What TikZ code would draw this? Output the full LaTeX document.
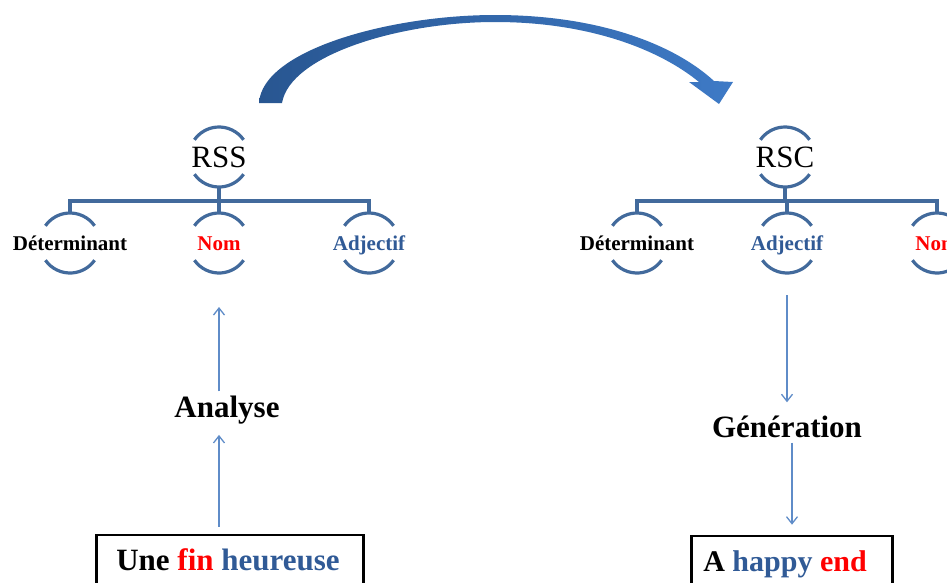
\documentclass[tikz,border=0pt]{standalone}
\usepackage{fontspec}
\setmainfont{Liberation Serif}
\usetikzlibrary{calc,arrows.meta}
\definecolor{treeblue}{RGB}{66,106,156}
\definecolor{flowblue}{RGB}{95,140,200}
\definecolor{wordblue}{RGB}{48,90,150}
\definecolor{arrowdark}{RGB}{40,86,145}
\definecolor{arrowlight}{RGB}{62,122,198}
\definecolor{wordred}{RGB}{255,0,0}
\begin{document}
\begin{tikzpicture}[x=1pt,y=1pt,
  tree/.style={draw=treeblue,line width=3.2pt},
  arcs/.style={draw=treeblue,line width=3.2pt,line cap=butt},
  rootlbl/.style={font=\fontsize{31}{31}\selectfont,inner sep=0pt,text height=21pt,text depth=0pt},
  catlbl/.style={font=\fontsize{21}{21}\selectfont\bfseries,inner sep=0pt,text height=15pt,text depth=0pt},
  steplbl/.style={font=\fontsize{31}{31}\selectfont\bfseries,inner sep=0pt,anchor=base},
  flow/.style={draw=flowblue,line width=1.3pt,-{Straight Barb[length=7pt,width=11pt,line width=1.3pt]}},
  phrase/.style={draw=black,line width=2.6pt,font=\fontsize{31}{31}\selectfont\bfseries,
    anchor=base west,text height=22pt,text depth=7pt,inner ysep=13pt}]
\useasboundingbox (0,0) rectangle (947,-582);

% curved transfer arrow between the two structures
\shade[left color=arrowdark,right color=arrowlight]
  (259,-103) .. controls (262,-50) and (390,-15) .. (495,-15)
  .. controls (600,-15) and (675,-45) .. (714,-81)
  -- (733,-82) -- (719,-104) -- (689,-82) -- (699,-82)
  .. controls (660,-50) and (590,-22) .. (495,-22)
  .. controls (400,-22) and (290,-55) .. (282,-103) -- cycle;

% source structure
\node[rootlbl] (rss) at (219,-157) {RSS};
\node[catlbl] (det1) at (70,-243) {Déterminant};
\node[catlbl,text=wordred] (nom1) at (219,-243) {Nom};
\node[catlbl,text=wordblue] (adj1) at (369,-243) {Adjectif};

% target structure
\node[rootlbl] (rsc) at (785,-157) {RSC};
\node[catlbl] (det2) at (637,-243) {Déterminant};
\node[catlbl,text=wordblue] (adj2) at (787,-243) {Adjectif};
\node[catlbl,text=wordred] (nom2) at (937,-243) {Nom};

% bracket arcs around every tree label
\foreach \n in {rss,det1,nom1,adj1,rsc,det2,adj2,nom2}{
  \draw[arcs] ([shift={(35:30pt)}]\n.center) arc[start angle=35,end angle=145,radius=30pt];
  \draw[arcs] ([shift={(215:30pt)}]\n.center) arc[start angle=215,end angle=325,radius=30pt];
}

% tree branches
\foreach \c in {det1,nom1,adj1}
  \draw[tree] ([yshift=-30pt]rss.center) -- ++(0,-14pt) -| ([yshift=30pt]\c.center);
\foreach \c in {det2,adj2,nom2}
  \draw[tree] ([yshift=-30pt]rsc.center) -- ++(0,-14pt) -| ([yshift=30pt]\c.center);

% step labels
\node[steplbl] (analyse) at (227,-417) {Analyse};
\node[steplbl] (gen) at (787,-437) {Génération};

% phrases
\node[phrase,inner xsep=20pt] (src) at (95,-570)
  {Une \textcolor{wordred}{fin} \textcolor{wordblue}{heureuse}\kern4pt};
\node[phrase,inner xsep=12pt,font=\fontsize{30}{30}\selectfont\bfseries] (tgt) at (690,-571)
  {A \textcolor{wordblue}{happy} \textcolor{wordred}{end}\kern14pt};

% analysis: phrase up to the noun
\draw[flow] ($(src.north -| nom1.center)+(0,7pt)$) -- ($(analyse.south -| nom1.center)+(0,-11pt)$);
\draw[flow] ($(analyse.north -| nom1.center)+(0,4pt)$) -- ($(nom1.center)+(0,-64pt)$);

% generation: adjective down to the phrase
\draw[flow] ($(adj2.center)+(0,-52pt)$) -- ($(gen.north -| adj2.center)+(0,13pt)$);
\draw[flow] ($(gen.south)+(5pt,-5pt)$) -- ($(tgt.north -| gen.south)+(5pt,10pt)$);
\end{tikzpicture}
\end{document}
